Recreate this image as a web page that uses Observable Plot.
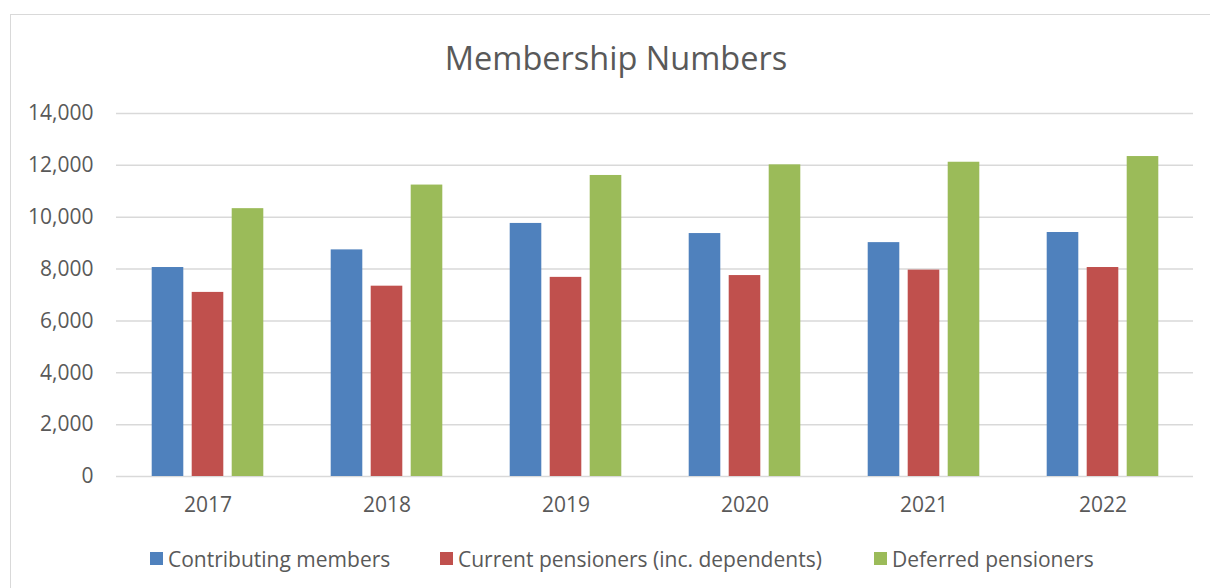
<!DOCTYPE html>
<html>
<head>
<meta charset="utf-8">
<script src="https://cdn.jsdelivr.net/npm/d3@7"></script>
<script src="https://cdn.jsdelivr.net/npm/@observablehq/plot@0.6"></script>
<style>
  html, body { margin: 0; padding: 0; background: #fff; }
  #wrap { position: relative; width: 1210px; height: 588px; overflow: hidden; font-family: "Open Sans", sans-serif; color: #595959; }
  #border { position: absolute; left: 10px; top: 14px; width: 1210px; height: 600px; border: 1.5px solid #d9d9d9; box-sizing: border-box; }
  #title { position: absolute; top: 35px; left: 0; width: 1232px; text-align: center; font-size: 32.5px; line-height: 46px; }
  #chart { position: absolute; left: 0; top: 0; }
  .leg { position: absolute; top: 545px; font-size: 21px; line-height: 28px; white-space: nowrap; }
  .sw { position: absolute; top: 552px; width: 13px; height: 13px; }
</style>
</head>
<body>
<div id="wrap">
  <div id="border"></div>
  <div id="title">Membership Numbers</div>
  <div id="chart"></div>
  <div id="legend"></div>
</div>
<script>
const years = ["2017", "2018", "2019", "2020", "2021", "2022"];
const seriesNames = ["Contributing members", "Current pensioners (inc. dependents)", "Deferred pensioners"];
const seriesColors = ["#4f81bd", "#c0504d", "#9bbb59"];
const contributing = [8060, 8740, 9760, 9370, 9020, 9410];
const pensioners = [7100, 7340, 7680, 7750, 7960, 8060];
const deferred = [10330, 11240, 11610, 12020, 12120, 12340];
const yTicks = [0, 2000, 4000, 6000, 8000, 10000, 12000, 14000];

const seriesValues = [contributing, pensioners, deferred];
const data = seriesNames.map((name, s) => years.map((year, i) => ({year, series: name, value: seriesValues[s][i]})));

// bar placement within each year band (band width ~179px, bar 32px, gap 8px)
const insets = [[33.7, 113.7], [73.7, 73.7], [113.7, 33.7]];

const fontStyle = {fontFamily: "'Open Sans', sans-serif", fontSize: "21px", color: "#595959", background: "transparent", overflow: "visible"};

const chart = Plot.plot({
  width: 1210,
  height: 530,
  marginLeft: 116,
  marginRight: 17,
  marginTop: 113,
  marginBottom: 54,
  style: fontStyle,
  x: {domain: years, padding: 0},
  y: {domain: [0, 14000]},
  marks: [
    Plot.gridY(yTicks, {stroke: "#d9d9d9", strokeOpacity: 1, strokeWidth: 1.5}),
    Plot.axisY(yTicks, {tickSize: 0, tickPadding: 23, tickFormat: d3.format(","), label: null, fill: "#595959"}),
    Plot.axisX({tickSize: 0, tickPadding: 21, label: null, fill: "#595959"}),
    ...data.map((d, s) => Plot.barY(d, {x: "year", y: "value", fill: seriesColors[s], insetLeft: insets[s][0], insetRight: insets[s][1]}))
  ]
});
document.getElementById("chart").appendChild(chart);

const legend = document.getElementById("legend");
const legX = [150, 440, 874];
seriesNames.forEach((name, i) => {
  const sw = document.createElement("div");
  sw.className = "sw"; sw.style.left = legX[i] + "px"; sw.style.background = seriesColors[i];
  legend.appendChild(sw);
  const t = document.createElement("div");
  t.className = "leg"; t.style.left = (legX[i] + 18) + "px"; t.textContent = name;
  legend.appendChild(t);
});
</script>
</body>
</html>
